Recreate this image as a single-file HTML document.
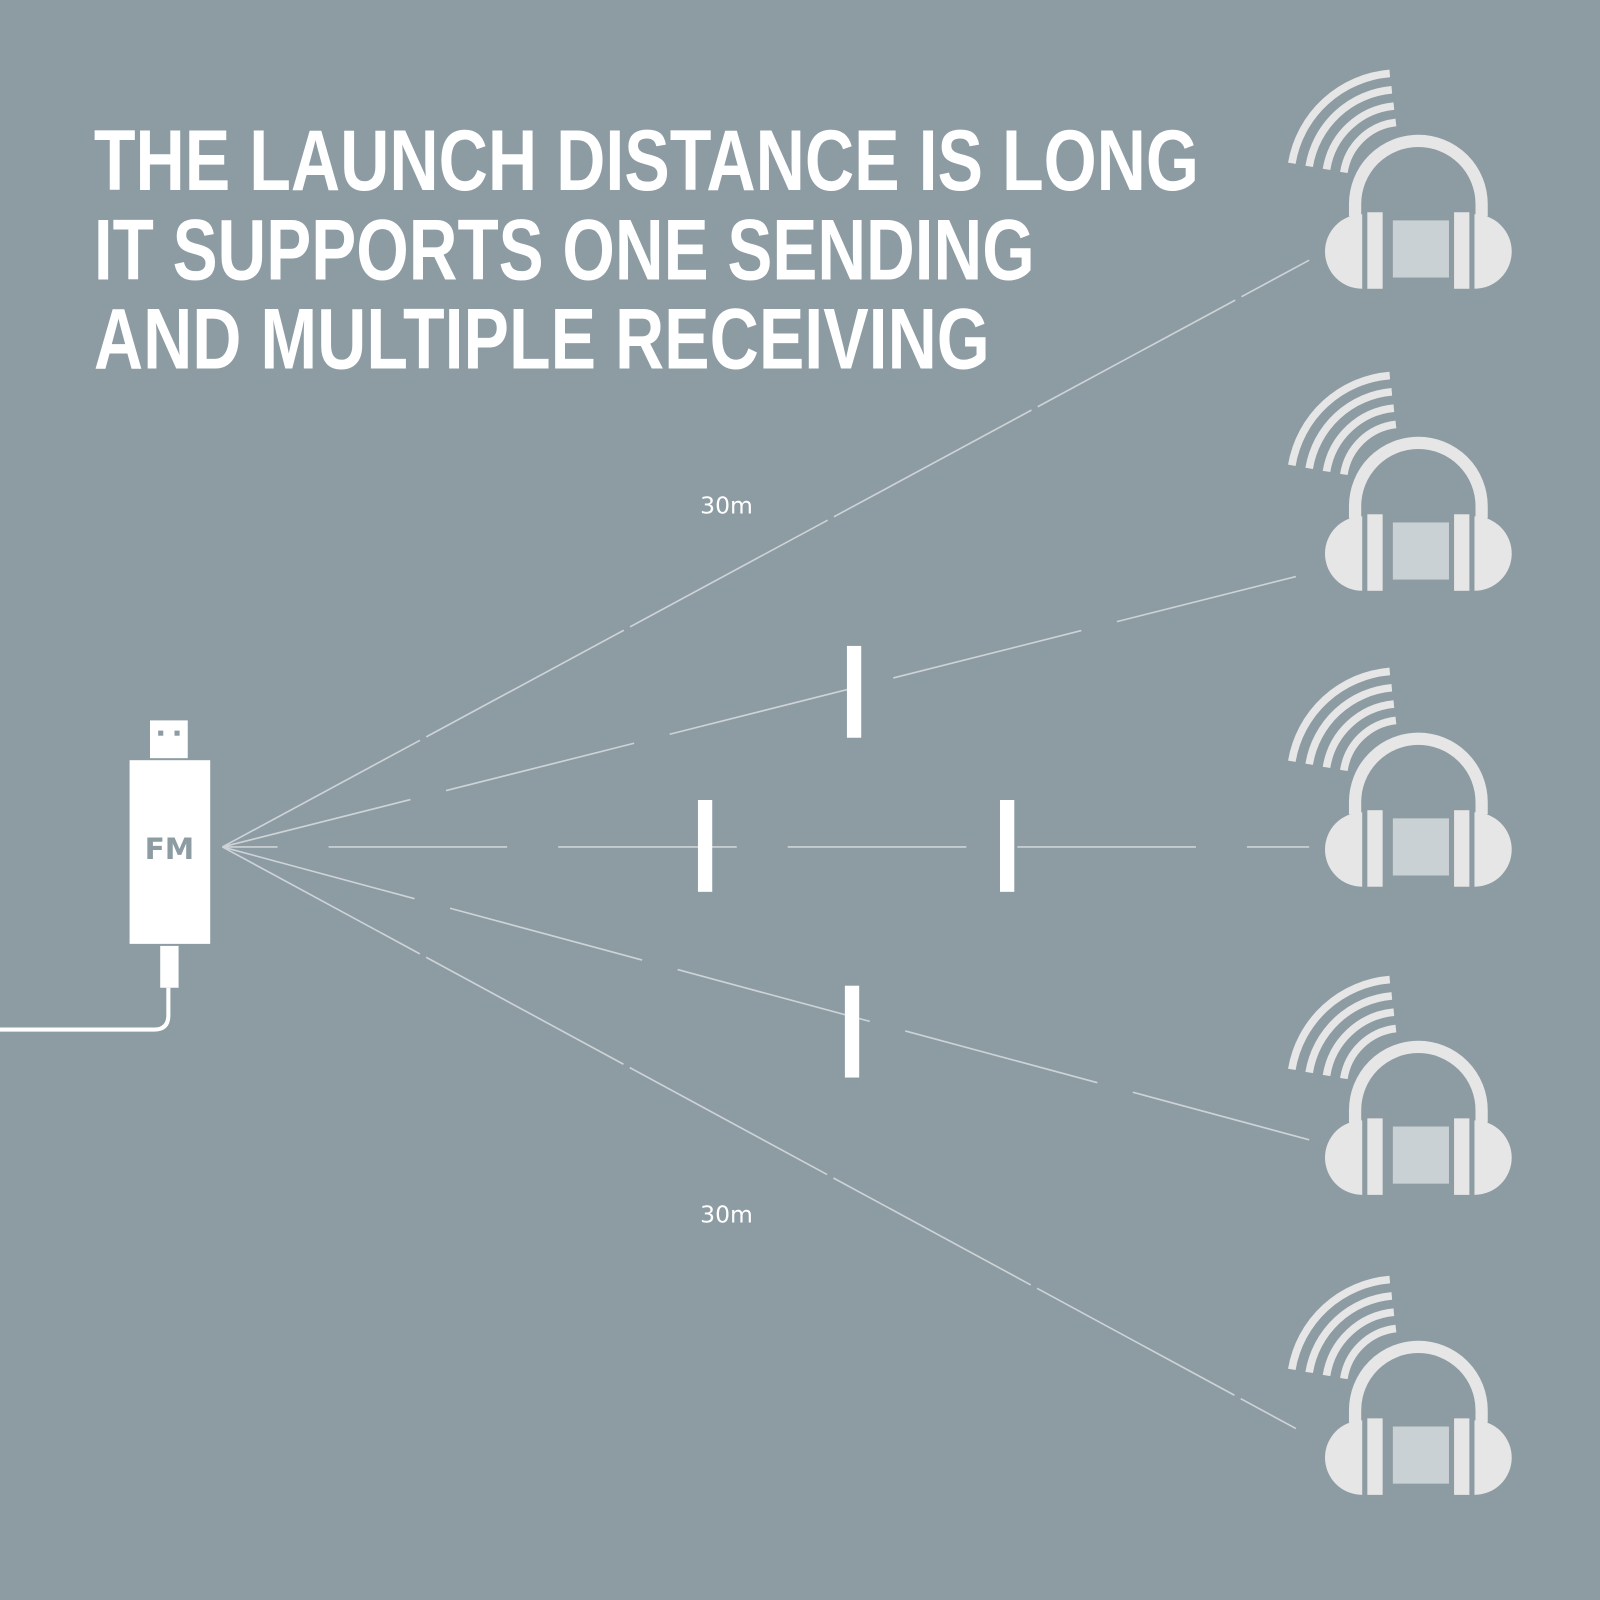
<!DOCTYPE html>
<html><head><style>html,body{margin:0;padding:0;background:#8d9ca3}svg{display:block}</style></head>
<body>
<svg width="1600" height="1600" viewBox="0 0 1600 1600" xmlns="http://www.w3.org/2000/svg">
<defs>
<g id="hp">
  <g fill="none" stroke="#e6e6e6" stroke-width="7.5">
    <path d="M1266,160 A106,106 0 0 1 1362,72"/>
    <path d="M1283,163 A90,90 0 0 1 1364,88"/>
    <path d="M1300,166 A74,74 0 0 1 1366,104"/>
    <path d="M1317,169 A58,58 0 0 1 1368,120"/>
  </g>
  <path d="M1328,212 L1328,200 A62,62 0 0 1 1452,200 L1452,212" fill="none" stroke="#e6e6e6" stroke-width="12"/>
  <path d="M1335,210 A36,36 0 0 0 1335,283 Z" fill="#e6e6e6"/>
  <path d="M1445,210 A36,36 0 0 1 1445,283 Z" fill="#e6e6e6"/>
  <rect x="1340" y="208" width="15" height="75" fill="#e6e6e6"/>
  <rect x="1425" y="208" width="15" height="75" fill="#e6e6e6"/>
  <rect x="1365" y="216" width="55" height="56" fill="#c9d1d4"/>
</g>
</defs>
<rect width="1600" height="1600" fill="#8d9ca3"/>
<g transform="scale(1.0204)">
<g font-family="Liberation Sans, sans-serif" font-weight="bold" font-size="85" fill="#fff">
<text x="92" y="186" textLength="1083" lengthAdjust="spacingAndGlyphs">THE LAUNCH DISTANCE IS LONG</text>
<text x="92" y="274" textLength="922" lengthAdjust="spacingAndGlyphs">IT SUPPORTS ONE SENDING</text>
<text x="92" y="361" textLength="878" lengthAdjust="spacingAndGlyphs">AND MULTIPLE RECEIVING</text>
</g>
<g font-family="DejaVu Sans, sans-serif" font-size="23" fill="#fff" text-anchor="middle">
<text x="712" y="503">30m</text>
<text x="712" y="1198">30m</text>
</g>
<use href="#hp"/>
<use href="#hp" y="296"/>
<use href="#hp" y="586"/>
<use href="#hp" y="888"/>
<use href="#hp" y="1182"/>
<g stroke="#cdd3d6" stroke-width="1.6" fill="none">
<line x1="218" y1="830" x2="1283" y2="255" stroke-dasharray="220,7"/>
<line x1="218" y1="830" x2="1270" y2="565" stroke-dasharray="190,36"/>
<line x1="218" y1="830" x2="1283" y2="830" stroke-dasharray="54,50,175,50,175,50,175,50,175,50,175,50,175,50"/>
<line x1="218" y1="830" x2="1283" y2="1117" stroke-dasharray="195,36"/>
<line x1="218" y1="830" x2="1270" y2="1400" stroke-dasharray="220,7"/>
</g>
<g fill="#fff">
<rect x="830" y="633" width="14" height="90"/>
<rect x="684" y="784" width="14" height="90"/>
<rect x="980" y="784" width="14" height="90"/>
<rect x="828" y="966" width="14" height="90"/>
<rect x="147" y="706" width="37" height="37"/>
<rect x="127" y="745" width="79" height="180"/>
<rect x="157" y="927" width="18" height="41"/>
</g>
<rect x="155" y="716" width="5" height="5" fill="#8d9ca3"/>
<rect x="171" y="716" width="5" height="5" fill="#8d9ca3"/>
<text x="166" y="842" font-family="DejaVu Sans, sans-serif" font-weight="bold" font-size="29" fill="#8d9ca3" text-anchor="middle">FM</text>
<path d="M165,968 L165,995 Q165,1009 151,1009 L0,1009" fill="none" stroke="#fff" stroke-width="4"/>
</g>
</svg>
</body></html>
